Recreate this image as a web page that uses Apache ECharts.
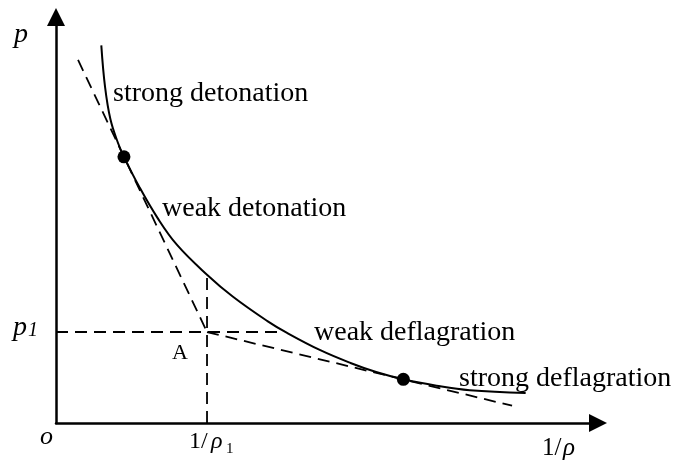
<!DOCTYPE html>
<html>
<head>
<meta charset="utf-8">
<title>Hugoniot curve</title>
<script src="https://cdn.jsdelivr.net/npm/echarts@6/dist/echarts.min.js"></script>
<style>
  html, body { margin: 0; padding: 0; background: #fff; }
  #chart { width: 673px; height: 462px; }
</style>
</head>
<body>
<div id="chart"></div>
<script>
// specific volume 1/rho (units of 1/rho1) and pressure (units of p1)
const hugoniotV = [0.30, 0.325, 0.36, 0.41, 0.45, 0.55, 0.67, 0.80, 1.00, 1.17, 1.40, 1.53, 1.75, 1.95, 2.12, 2.30, 2.52, 2.74, 3.11];
const hugoniotP = [4.15, 3.69, 3.34, 3.08, 2.925, 2.60, 2.26, 1.96, 1.63, 1.39, 1.12, 0.99, 0.80, 0.66, 0.56, 0.48, 0.41, 0.36, 0.33];

// Rayleigh lines through the initial state A
const rayleighDetV = [0.146, 1.0];
const rayleighDetP = [3.99, 1.0];
const rayleighDefV = [1.0, 3.02];
const rayleighDefP = [1.0, 0.19];

// reference lines at p1 and 1/rho1
const p1LineV = [0, 1.47];
const p1LineP = [1, 1];
const v1LineV = [1, 1];
const v1LineP = [0, 1.63];

// Chapman-Jouguet tangent points
const cjV = [0.45, 2.30];
const cjP = [2.925, 0.48];

const pairs = (xs, ys) => xs.map((x, i) => [x, ys[i]]);

const chart = echarts.init(document.getElementById('chart'));

const serif = '"Liberation Serif", "Times New Roman", serif';
const txt = (text, left, y, size, italic) => ({
  type: 'text',
  left: left,
  top: y - size / 2,
  style: {
    text: text,
    fill: '#000',
    font: (italic ? 'italic ' : '') + size + 'px ' + serif
  }
});

const dashed = { color: '#000', width: 1.8, type: [12, 7] };
const dashLine = (data) => ({
  type: 'line',
  data: data,
  showSymbol: false,
  lineStyle: dashed,
  silent: true
});

// triangle head is centred on the axis end, so the tip sits 9px past it
const arrowAxis = {
  show: true,
  symbol: ['none', 'path://M5,0 L10,10 L0,10 Z'],
  symbolSize: [18, 18],
  lineStyle: { color: '#000', width: 2.5 }
};

const option = {
  animation: false,
  grid: { left: 56, top: 17, right: 75, bottom: 39 },
  xAxis: {
    type: 'value',
    min: 0,
    max: 3.589,
    axisLine: arrowAxis,
    axisTick: { show: false },
    axisLabel: { show: false },
    splitLine: { show: false }
  },
  yAxis: {
    type: 'value',
    min: 0,
    max: 4.462,
    axisLine: arrowAxis,
    axisTick: { show: false },
    axisLabel: { show: false },
    splitLine: { show: false }
  },
  series: [
    {
      type: 'line',
      data: pairs(hugoniotV, hugoniotP),
      smooth: 0.4,
      showSymbol: false,
      lineStyle: { color: '#000', width: 2 }
    },
    dashLine(pairs(rayleighDetV, rayleighDetP)),
    dashLine(pairs(rayleighDefV, rayleighDefP)),
    dashLine(pairs(p1LineV, p1LineP)),
    dashLine(pairs(v1LineV, v1LineP)),
    {
      type: 'scatter',
      data: pairs(cjV, cjP),
      symbolSize: 13,
      itemStyle: { color: '#000', opacity: 1 }
    }
  ],
  graphic: [
    txt('strong detonation', 113, 94, 28),
    txt('weak detonation', 162, 209, 28),
    txt('weak deflagration', 314, 333, 28),
    txt('strong deflagration', 459, 379, 28),
    txt('A', 172, 353, 22),
    txt('p', 14, 35, 28, true),
    txt('p', 13, 328, 28, true),
    txt('1', 28, 331, 20, true),
    txt('o', 40, 437, 26, true),
    txt('1/', 189, 442, 24),
    txt('ρ', 211, 442, 24, true),
    txt('1', 226, 449, 15),
    txt('1/', 542, 448, 25),
    txt('ρ', 563, 448, 25, true)
  ]
};

chart.setOption(option);
window.addEventListener('resize', () => chart.resize());
</script>
</body>
</html>
